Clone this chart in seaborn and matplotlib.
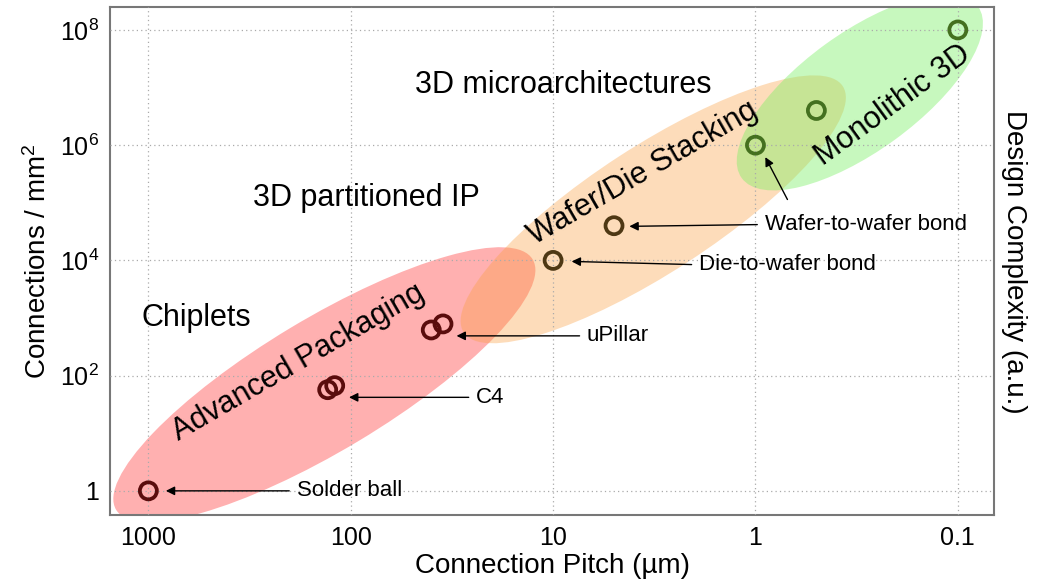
import numpy as np
import pandas as pd
import matplotlib
matplotlib.use("Agg")
import matplotlib.pyplot as plt
import matplotlib.ticker as mticker
from matplotlib.patches import Ellipse
from matplotlib.transforms import ScaledTranslation
import seaborn as sns

# data
pitch_um = [1000, 130, 120, 40, 35, 10, 5, 1, 0.5, 0.1]
conn_per_mm2 = [1, 57, 67, 620, 790, 1e4, 4e4, 1e6, 4e6, 1e8]
tech = ["pkg", "pkg", "pkg", "pkg", "pkg", "stack", "stack", "mono", "mono", "mono"]

x_ticks = [1000, 100, 10, 1, 0.1]
x_ticklabels = ["1000", "100", "10", "1", "0.1"]
y_ticks = [1, 1e2, 1e4, 1e6, 1e8]
y_ticklabels = ["1", "$10^{2}$", "$10^{4}$", "$10^{6}$", "$10^{8}$"]

# annotations: label, arrow target (pitch, conn), text anchor (pitch, conn)
ann_labels = ["Solder ball", "C4", "uPillar", "Die-to-wafer bond", "Wafer-to-wafer bond"]
ann_targets = [(820, 1), (102, 42), (30, 490), (8.1, 9.6e3), (4.2, 3.9e4)]
ann_text_pos = [(185, 1), (24, 42), (6.8, 490), (1.9, 8.4e3), (0.9, 4.2e4)]

df = pd.DataFrame({"pitch": pitch_um, "conn": conn_per_mm2, "tech": tech})

sns.set_style("white")
plt.rcParams["font.family"] = ["Liberation Sans", "DejaVu Sans"]
plt.rcParams["mathtext.fontset"] = "custom"
plt.rcParams["mathtext.rm"] = "Liberation Sans"
plt.rcParams["mathtext.it"] = "Liberation Sans:italic"
plt.rcParams["text.color"] = "black"
plt.rcParams["axes.labelcolor"] = "black"
plt.rcParams["xtick.labelcolor"] = "black"
plt.rcParams["ytick.labelcolor"] = "black"

fig = plt.figure(figsize=(10.5, 5.85), dpi=100)
ax = fig.add_axes([0.105, 0.12, 0.842, 0.868])
ax.set_xscale("log")
ax.set_yscale("log")
ax.set_xlim(1543, 0.066)
ax.set_ylim(0.384, 2.5e8)

# shaded regions (centre in data coords, size in pixels)
def blob(cx, cy, w, h, ang, color, alpha):
    tr = fig.dpi_scale_trans + ScaledTranslation(cx, cy, ax.transData)
    e = Ellipse((0, 0), w / 100, h / 100, angle=ang, transform=tr,
                facecolor=color, edgecolor="none", alpha=alpha, zorder=1)
    ax.add_patch(e)

blob(135, 70, 486, 132, 31, "#ff5050", 0.45)
blob(3.2, 7.7e4, 452, 126, 33, "#fa9f40", 0.36)
blob(0.305, 8.3e6, 292, 118, 36, "#7af064", 0.42)

ax.grid(True, which="major", linestyle=(0, (1, 2.5)), color="#aaaaaa", linewidth=0.9, zorder=2)
ax.set_axisbelow(False)

palette = {"pkg": "#5a0c0c", "stack": "#4e3814", "mono": "#44701f"}
sns.scatterplot(data=df, x="pitch", y="conn", hue="tech", palette=palette,
                s=150, linewidth=2.7, legend=False, ax=ax, zorder=5)
pts = ax.collections[-1]
pts.set_edgecolors(pts.get_facecolors())
pts.set_facecolors("none")

# tick setup
ax.xaxis.set_major_locator(mticker.FixedLocator(x_ticks))
ax.xaxis.set_major_formatter(mticker.FixedFormatter(x_ticklabels))
ax.xaxis.set_minor_locator(mticker.LogLocator(base=10, subs=np.arange(2, 10)))
ax.xaxis.set_minor_formatter(mticker.NullFormatter())
ax.yaxis.set_major_locator(mticker.FixedLocator(y_ticks))
ax.yaxis.set_major_formatter(mticker.FixedFormatter(y_ticklabels))
ax.yaxis.set_minor_locator(mticker.FixedLocator([10, 1e3, 1e5, 1e7]))
ax.yaxis.set_minor_formatter(mticker.NullFormatter())
ax.tick_params(which="both", direction="in", color="#666666", top=False, right=False,
               labelsize=18)
ax.tick_params(which="major", length=9, width=1.2, pad=8)
ax.tick_params(which="minor", length=5, width=1.0)

for sp in ax.spines.values():
    sp.set_color("#777777")
    sp.set_linewidth(1.5)

ax.set_xlabel("Connection Pitch (µm)", fontsize=20, labelpad=2)
ax.set_ylabel("Connections / mm$^2$", fontsize=20, labelpad=6)
fig.text(0.966, 0.553, "Design Complexity (a.u.)", rotation=-90, fontsize=20,
         ha="center", va="center")

# region labels
ax.text(580, 1000, "Chiplets", fontsize=22, ha="center", va="center")
ax.text(84, 1.23e5, "3D partitioned IP", fontsize=22, ha="center", va="center")
ax.text(8.9, 1.1e7, "3D microarchitectures", fontsize=22, ha="center", va="center")
ax.text(182, 170, "Advanced Packaging", fontsize=22, rotation=30,
        ha="center", va="center", rotation_mode="anchor", zorder=6)
ax.text(3.6, 3.3e5, "Wafer/Die Stacking", fontsize=22, rotation=30,
        ha="center", va="center", rotation_mode="anchor", zorder=6)
ax.text(0.21, 4.9e6, "Monolithic 3D", fontsize=22, rotation=36,
        ha="center", va="center", rotation_mode="anchor", zorder=6)

arrow = dict(arrowstyle="-|>", color="black", lw=1.0, mutation_scale=13,
             shrinkA=3, shrinkB=0, relpos=(0, 0.5))
for lab, tgt, pos in zip(ann_labels, ann_targets, ann_text_pos):
    ax.annotate(lab, xy=tgt, xytext=pos, fontsize=16, ha="left", va="center",
                arrowprops=arrow, zorder=6)
ax.annotate("", xy=(0.894, 6.2e5), xytext=(0.695, 1.14e5),
            arrowprops=dict(arrowstyle="-|>", color="black", lw=1.0,
                            mutation_scale=13, shrinkA=0, shrinkB=0), zorder=6)

fig.savefig("out.png", dpi=100)
